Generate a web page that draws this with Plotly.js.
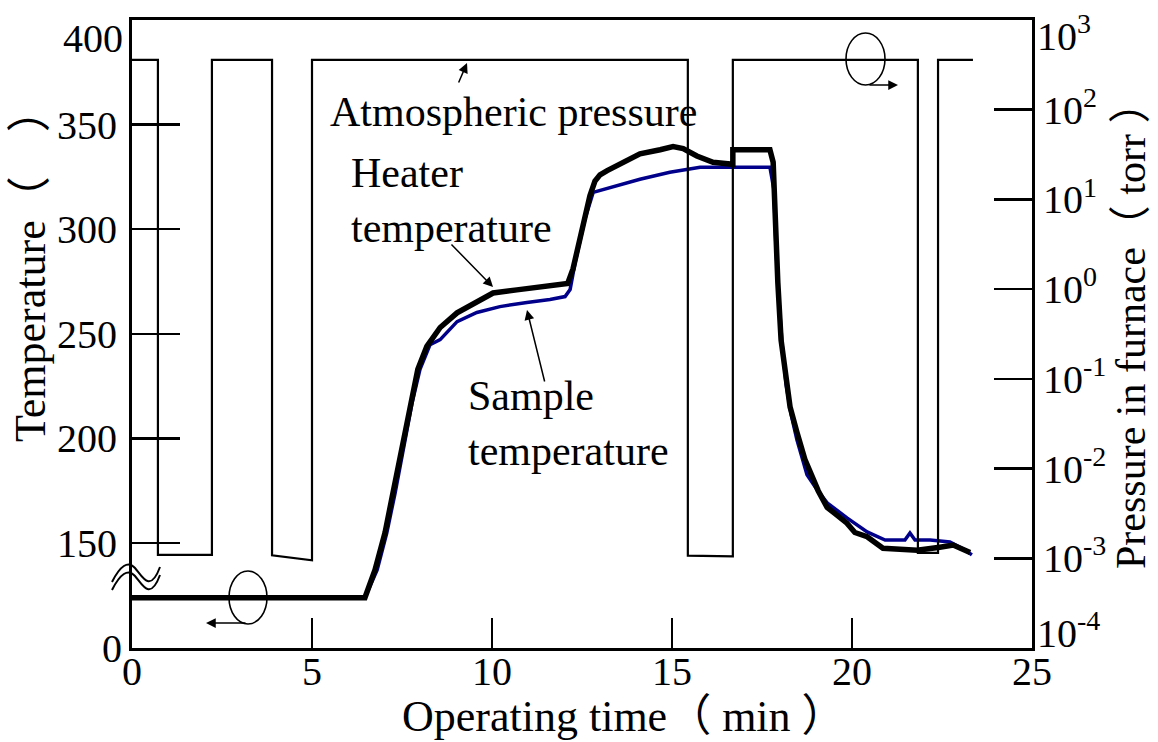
<!DOCTYPE html>
<html>
<head>
<meta charset="utf-8">
<script src="https://cdn.plot.ly/plotly-3.0.1.min.js"></script>
<style>html,body{margin:0;padding:0;background:#fff;}#chart{width:1158px;height:742px;}</style>
</head>
<body>
<div id="chart"></div>
<script>
// ---------- data ----------
const heaterTime = [0, 6.47, 6.75, 7.03, 7.25, 7.5, 7.72, 7.94, 8.19, 8.56, 9.03, 9.58, 10.03, 10.69, 11.42, 12.03, 12.1, 12.25, 12.44, 12.58, 12.72, 12.86, 13.0, 13.2, 13.56, 14.11, 14.67, 15.03, 15.31, 15.69, 16.14, 16.69, 16.69, 17.72, 17.81, 17.86, 17.94, 18.03, 18.14, 18.28, 18.47, 18.69, 19.06, 19.31, 19.53, 19.86, 20.08, 20.42, 20.86, 21.81, 22.44, 22.81, 23.28];
const heaterTemp = [24, 24, 119, 155, 174, 196, 217, 233, 244, 253, 260, 265, 269.5, 271, 272.5, 274, 274, 281, 295, 306, 316, 323, 326, 328, 331, 336, 338, 339.5, 338.5, 335, 332, 331, 338, 338, 332, 301, 274.5, 247, 231, 215, 203, 190, 175, 167, 164, 159.5, 155, 153, 147.5, 146.5, 148, 149, 145.5];

const sampleTime = [0, 6.47, 6.81, 7.08, 7.31, 7.56, 7.78, 8.0, 8.28, 8.56, 9.03, 9.58, 10.22, 10.97, 11.61, 12.03, 12.17, 12.31, 12.58, 12.81, 13.28, 14.11, 14.94, 15.78, 16.69, 17.72, 17.83, 17.89, 17.97, 18.06, 18.17, 18.31, 18.47, 18.75, 19.03, 19.31, 19.86, 20.42, 20.92, 21.47, 21.61, 21.75, 22.17, 22.72, 23.14, 23.33];
const sampleTemp = [24, 24, 119, 155, 174, 196, 217, 233, 244.8, 247.2, 255.8, 260.2, 263, 265, 266.4, 267.8, 271.2, 284.1, 304.7, 317.6, 320, 323.9, 327.2, 329.6, 329.6, 329.6, 319, 290.3, 266.4, 244.8, 225.7, 211.3, 199.3, 182.6, 175.4, 169.2, 162, 155.3, 151.4, 151.4, 154.8, 151.4, 151.4, 150.5, 146.6, 144.3];

const pressureTime = [0, 0.72, 0.72, 2.22, 2.22, 3.89, 3.89, 5.0, 5.0, 15.44, 15.44, 16.69, 16.69, 21.83, 21.83, 22.39, 22.39, 23.36];
const pressureTorr = [360, 360, 1.09e-3, 1.09e-3, 360, 360, 1.08e-3, 0.95e-3, 360, 360, 1.07e-3, 1.05e-3, 360, 360, 1.15e-3, 1.15e-3, 360, 360];

const xTicks = [0, 5, 10, 15, 20, 25];
const tempTicks = [150, 200, 250, 300, 350];
const pressureTicks = [1e-3, 1e-2, 1e-1, 1, 10, 100];
const pressureTickText = ['10<sup>-3</sup>', '10<sup>-2</sup>', '10<sup>-1</sup>', '10<sup>0</sup>', '10<sup>1</sup>', '10<sup>2</sup>'];

// ---------- broken temperature axis (0..24 linear, squeezed break, 140..400 linear) ----------
const BREAK_LO = 24, BREAK_HI = 140, UPPER_OFFSET = 99.8;
function tempAxis(T) {
  if (T >= BREAK_HI) return T - UPPER_OFFSET;
  if (T <= BREAK_LO) return T;
  const hi = BREAK_HI - UPPER_OFFSET;
  return BREAK_LO + (T - BREAK_LO) * (hi - BREAK_LO) / (BREAK_HI - BREAK_LO);
}

// ---------- layout helpers (plot area pixels -> paper) ----------
const L = 132, R = 1032, T0 = 20, B = 648;
const px = x => (x - L) / (R - L);
const py = y => (B - y) / (B - T0);
const FONT = '"Liberation Serif", "Times New Roman", "Noto Sans CJK JP", serif';

const traces = [
  {x: pressureTime, y: pressureTorr, yaxis: 'y2', mode: 'lines', line: {color: '#000', width: 2.2}, hoverinfo: 'skip'},
  {x: sampleTime, y: sampleTemp.map(tempAxis), mode: 'lines', line: {color: '#00008b', width: 3.5}},
  {x: heaterTime, y: heaterTemp.map(tempAxis), mode: 'lines', line: {color: '#000', width: 5.5}}
];

function wave(pts) {
  let s = 'M' + px(pts[0][0]) + ',' + py(pts[0][1]);
  s += ' C' + [1,2,3].map(i => px(pts[i][0]) + ',' + py(pts[i][1])).join(' ');
  s += ' S' + [4,5].map(i => px(pts[i][0]) + ',' + py(pts[i][1])).join(' ');
  return s;
}

const shapes = [
  {type: 'path', xref: 'paper', yref: 'paper', line: {color: '#000', width: 2},
   path: wave([[112,582],[120,566],[128,560],[135,568],[150,594],[160,567]])},
  {type: 'path', xref: 'paper', yref: 'paper', line: {color: '#000', width: 2},
   path: wave([[112,590],[120,574],[128,568],[135,576],[150,602],[160,575]])},
  {type: 'circle', xref: 'paper', yref: 'paper', x0: px(229), x1: px(267), y0: py(624), y1: py(571), line: {color: '#000', width: 1.6}},
  {type: 'circle', xref: 'paper', yref: 'paper', x0: px(846), x1: px(885), y0: py(85), y1: py(33), line: {color: '#000', width: 1.6}}
];

function txt(text, x, y, opts) {
  return Object.assign({text: text, xref: 'paper', yref: 'paper', x: px(x), y: py(y), showarrow: false,
    xanchor: 'center', yanchor: 'middle',
    font: {family: FONT, size: 42, color: '#000'}}, opts || {});
}
function arrow(hx, hy, tx, ty, w) {
  return {text: '', xref: 'paper', yref: 'paper', x: px(hx), y: py(hy), ax: tx - hx, ay: ty - hy,
    showarrow: true, arrowhead: 2, arrowsize: 1.3, arrowwidth: w || 1.5, arrowcolor: '#000'};
}
const F40 = {family: FONT, size: 40, color: '#000'};
const FT = {family: FONT, size: 44, color: '#000'};
const FR = {family: FONT, size: 42, color: '#000'};

const annotations = [
  txt('Atmospheric pressure', 513, 112),
  arrow(467, 63, 458, 84, 1.5),
  txt('Heater<br>temperature', 349, 200, {xanchor: 'left', align: 'left'}),
  arrow(493, 287, 450, 243, 1.5),
  txt('Sample<br>temperature', 466, 423, {xanchor: 'left', align: 'left'}),
  arrow(527, 310, 545, 383, 1.5),
  arrow(206, 623, 247, 623, 1.5),
  arrow(898, 85, 868, 85, 1.5),
  txt('400', 125, 38, {xanchor: 'right', font: F40}),
  txt('0', 124, 648, {xanchor: 'right', font: F40}),
  txt('10<sup>3</sup>', 1035, 33, {xanchor: 'left', font: F40}),
  txt('10<sup>-4</sup>', 1035, 630, {xanchor: 'left', font: F40}),
  txt('Temperature（　）', 30, 265, {textangle: -90, font: FT}),
  txt('Pressure in furnace（ torr ）', 1131, 325, {textangle: -90, font: FR}),
  txt('Operating time（ min ）', 624, 716, {font: FT})
];

const layout = {
  width: 1158, height: 742,
  margin: {l: L, r: 1158 - R, t: T0, b: 742 - B},
  paper_bgcolor: '#fff', plot_bgcolor: '#fff',
  showlegend: false,
  font: {family: FONT, color: '#000'},
  xaxis: {range: [0, 25], tickvals: xTicks, ticktext: xTicks.map(String), ticks: 'inside', ticklen: 30, tickwidth: 2.5,
          tickcolor: '#000', showline: true, linewidth: 3, linecolor: '#000', mirror: true, showgrid: false, zeroline: false,
          tickfont: F40, ticklabelstandoff: -14, fixedrange: true},
  yaxis: {range: [0, 400 - UPPER_OFFSET], tickvals: tempTicks.map(tempAxis), ticktext: tempTicks.map(String), ticks: 'inside',
          ticklen: 48, tickwidth: 2.5, tickcolor: '#000', showline: true, linewidth: 3, linecolor: '#000', showgrid: false,
          zeroline: false, tickfont: F40, ticklabelstandoff: 4},
  yaxis2: {type: 'log', range: [-4, 3], overlaying: 'y', side: 'right', tickvals: pressureTicks, ticktext: pressureTickText,
           ticks: 'inside', ticklen: 38, tickwidth: 2.5, tickcolor: '#000', showline: true, linewidth: 3, linecolor: '#000',
           showgrid: false, zeroline: false, tickfont: F40, ticklabelstandoff: 0},
  shapes: shapes,
  annotations: annotations
};

Plotly.newPlot('chart', traces, layout, {displayModeBar: false, staticPlot: true});
</script>
</body>
</html>
